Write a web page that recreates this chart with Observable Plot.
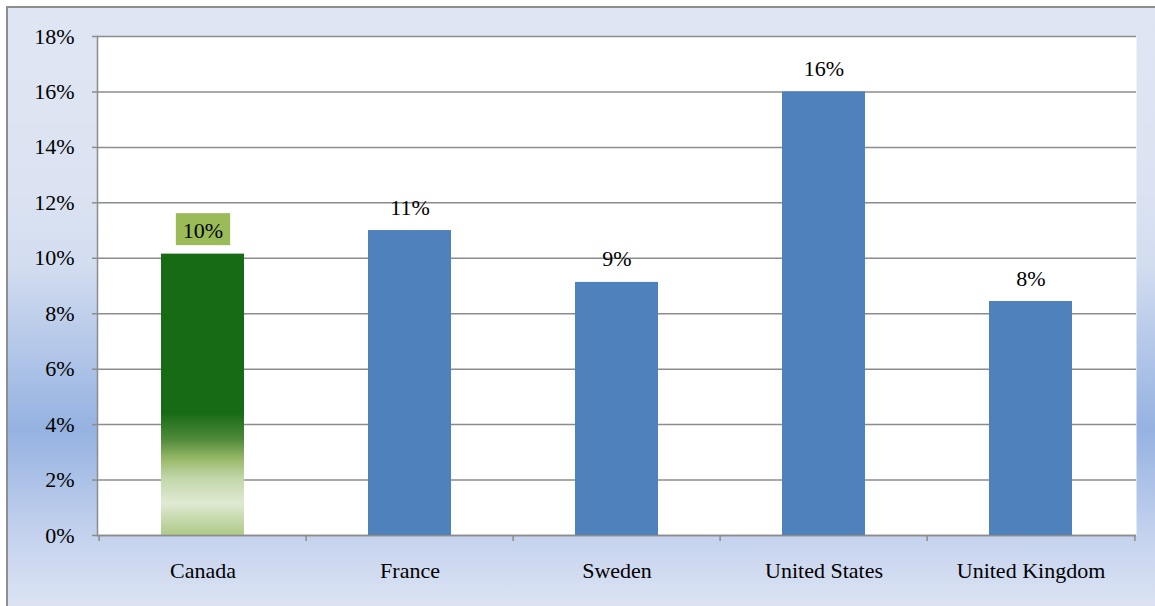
<!DOCTYPE html>
<html><head><meta charset="utf-8">
<script src="https://cdn.jsdelivr.net/npm/d3@7"></script>
<script src="https://cdn.jsdelivr.net/npm/@observablehq/plot@0.6"></script>
<style>
body{margin:0;background:#fff;}
#wrap{position:relative;width:1155px;height:606px;overflow:hidden;}
#bg{position:absolute;left:6px;top:6px;width:1160px;height:610px;border-left:2px solid #8e8e8e;border-top:2px solid #8e8e8e;
background:linear-gradient(to bottom,#dfe6f3 0%,#dbe3f2 30%,#d3ddf0 42%,#95b2e1 69%,#c6d3ee 87%,#dfe6f4 100%);}
#chart{position:absolute;left:0;top:0;}
#chart svg, #chart svg text{font-family:"Liberation Serif","Times New Roman",serif !important;}
</style></head><body>
<div id="wrap"><div id="bg"></div><div id="chart"></div></div>
<script>
const countries = ["Canada", "France", "Sweden", "United States", "United Kingdom"];
const shares = [10.15, 11.0, 9.13, 16.0, 8.44];
const yTicks = [0, 2, 4, 6, 8, 10, 12, 14, 16, 18];
const highlight = "Canada";

const data = countries.map((c, i) => ({country: c, value: shares[i]}));
const W = 1155, H = 606, ML = 97, MR = 19, MT = 36, MB = 71;
const step = (W - ML - MR) / countries.length;
const font = "Liberation Serif";
const fs = 22;
const gridColor = "#8c8c8c";
const ns = "http://www.w3.org/2000/svg";

const defs = () => {
  const d = document.createElementNS(ns, "defs");
  const g = document.createElementNS(ns, "linearGradient");
  g.setAttribute("id", "canadaGrad");
  g.setAttribute("x1", "0"); g.setAttribute("y1", "0");
  g.setAttribute("x2", "0"); g.setAttribute("y2", "1");
  [[0, "#176b15"], [0.566, "#176b15"], [0.66, "#4f8a3a"], [0.733, "#9bbb6b"],
   [0.80, "#c3d7ab"], [0.886, "#dfead3"], [1, "#aec986"]].forEach(([o, c]) => {
    const s = document.createElementNS(ns, "stop");
    s.setAttribute("offset", o); s.setAttribute("stop-color", c);
    g.appendChild(s);
  });
  d.appendChild(g);
  return d;
};

const fmt = d => Math.round(d) + "%";

const plot = Plot.plot({
  width: W, height: H,
  marginLeft: ML, marginRight: MR, marginTop: MT, marginBottom: MB,
  style: {background: "transparent", fontFamily: font, fontSize: fs + "px", color: "black"},
  x: {domain: countries, paddingInner: 0.6, paddingOuter: 0.3, label: null},
  y: {domain: [0, 18], label: null},
  marks: [
    defs,
    Plot.frame({fill: "white", stroke: null}),
    Plot.gridY(yTicks, {stroke: gridColor, strokeOpacity: 1, strokeWidth: 1.5}),
    Plot.barY(data.filter(d => d.country === highlight), {x: "country", y: "value", fill: "url(#canadaGrad)", inset: 0}),
    Plot.barY(data.filter(d => d.country !== highlight), {x: "country", y: "value", fill: "#4f81bd", inset: 0}),
    Plot.ruleY([0], {stroke: gridColor, strokeWidth: 1.5}),
    Plot.frame({anchor: "left", stroke: gridColor, strokeWidth: 1.5}),
    Plot.ruleX(countries, {x: d => d, dx: -step / 2, y1: 0, y2: -0.22, stroke: gridColor, strokeWidth: 1.5}),
    Plot.ruleX(countries.slice(-1), {x: d => d, dx: step / 2, y1: 0, y2: -0.22, stroke: gridColor, strokeWidth: 1.5}),
    Plot.axisY({ticks: yTicks, tickFormat: d => d + "%", tickSize: 5, tickPadding: 18, stroke: gridColor, strokeWidth: 1.5, fontSize: fs, fontFamily: font, label: null}),
    Plot.axisX({tickSize: 0, tickPadding: 27, fontSize: fs, fontFamily: font, label: null}),
    Plot.text(data.filter(d => d.country !== highlight), {x: "country", y: "value", text: d => fmt(d.value), dy: -23, fontSize: fs, fontFamily: font, fill: "black"}),
    Plot.text(data.filter(d => d.country === highlight), {x: "country", y: "value", text: d => fmt(d.value), dy: -23, fontSize: fs, fontFamily: font, fill: "#010101"})
  ]
});
document.getElementById("chart").append(plot);

const t = plot.querySelector('g[fill="#010101"] text');
if (t) {
  const bb = t.getBBox();
  const r = document.createElementNS(ns, "rect");
  r.setAttribute("x", bb.x - 7);
  r.setAttribute("y", bb.y - 5);
  r.setAttribute("width", bb.width + 14);
  r.setAttribute("height", bb.height + 7);
  r.setAttribute("fill", "#9bbb59");
  if (t.getAttribute("transform")) r.setAttribute("transform", t.getAttribute("transform"));
  t.parentNode.insertBefore(r, t);
}
</script>
</body></html>
